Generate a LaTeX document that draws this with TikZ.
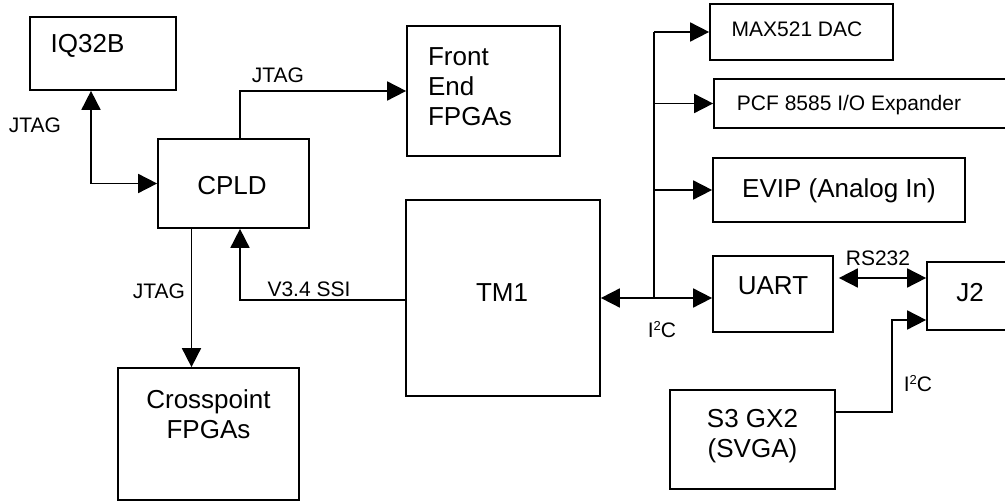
\documentclass[tikz,border=0pt]{standalone}
\usepackage{fontspec}
\setmainfont{Liberation Sans}
\usetikzlibrary{arrows.meta,positioning}

\newcommand{\sqtwo}{\raisebox{7pt}{\fontsize{13}{13}\selectfont 2}}

\tikzset{
    blk/.style={draw, rectangle, line width=1.7pt, inner sep=0pt},
    big/.style={font=\fontsize{26}{30}\selectfont, align=center},
    small/.style={font=\fontsize{21}{24}\selectfont},
    wire/.style={line width=1.7pt},
    link/.style={wire, -{Triangle[length=19pt,width=19pt]}},
    both/.style={wire, {Triangle[length=19pt,width=19pt]}-{Triangle[length=19pt,width=19pt]}}
}

\begin{document}
\begin{tikzpicture}[x=1pt, y=-1pt]
            \useasboundingbox (0,0) rectangle (1005,502);

            % blocks
            \node[blk, minimum width=146, minimum height=73, label={[big, shift={(-15.5pt,7.5pt)}]center:IQ32B}] (iq) at (103,53.5) {};
            \node[blk, minimum width=151, minimum height=89, label={[big, shift={(-1.5pt,-2pt)}]center:CPLD}] (cpld) at (233.5,183.5) {};
            \node[blk, minimum width=153, minimum height=130, label={[big, align=left, shift={(-13.5pt,4.5pt)}]center:Front\\End\\FPGAs}] (front) at (483.5,91) {};
            \node[blk, minimum width=181, minimum height=132, label={[big, shift={(0pt,20pt)}]center:Crosspoint\\FPGAs}] (xp) at (208.5,434) {};
            \node[blk, minimum width=194, minimum height=196, label={[big, shift={(-1pt,5pt)}]center:TM1}] (tm1) at (503,298) {};
            \node[blk, minimum width=183, minimum height=56, label={[small, shift={(-4.5pt,2.5pt)}]center:MAX521 DAC}] (dac) at (801.5,32) {};
            \node[blk, minimum width=296, minimum height=49, label={[small, shift={(-13pt,-1.5pt)}]center:PCF 8585 I/O Expander}] (pcf) at (862,103.5) {};
            \node[blk, minimum width=252, minimum height=64, label={[big, shift={(0pt,-1pt)}]center:EVIP (Analog In)}] (evip) at (839,190) {};
            \node[blk, minimum width=120, minimum height=76, label={[big, shift={(0pt,8pt)}]center:UART}] (uart) at (773,294) {};
            \node[blk, minimum width=83, minimum height=68, label={[big, shift={(1.5pt,3.5pt)}]center:J2}] (j2) at (968.5,296) {};
            \node[blk, minimum width=165, minimum height=99, label={[big, shift={(0pt,3.5pt)}]center:S3 GX2\\(SVGA)}] (s3) at (752.5,439.5) {};

            % signal names
            \node[small] (jtagiq) at (35,125) {JTAG};
            \node[small] (jtagfe) at (278,75) {JTAG};
            \node[small] (jtagxp) at (159,291) {JTAG};
            \node[small] (ssi) at (309,289.5) {V3.4 SSI};
            \node[small] (ibus) at (662,330) {I\sqtwo C};
            \node[small] (isvga) at (918,384) {I\sqtwo C};
            \node[small] (rs) at (878,258) {RS232};

            \coordinate (bus) at (654,298);
            \coordinate (bend) at (892,320);

            % connections
            \draw[both] ([xshift=-12pt]iq.south) |- (cpld.west);
            \draw[link] ([xshift=6.5pt]cpld.north) |- (front.west);
            \draw[link] ([xshift=-42pt]cpld.south) -- ([xshift=-42pt]cpld.south |- xp.north);
            \draw[link] ([yshift=-2pt]tm1.west) -| ([xshift=6.5pt]cpld.south);
            \draw[both] (bus -| tm1.east) -- (bus -| uart.west);
            \draw[wire] (bus) -- (bus |- dac.west);
            \foreach \dev in {dac, pcf, evip}
                \draw[link] (bus |- \dev.west) -- (\dev.west);
            \draw[both] ([xshift=5pt,yshift=16pt]uart.east) -- ([yshift=16pt]uart.east -| j2.west);
            \draw[link] ([yshift=27.5pt]s3.east) -| (bend) -- (bend -| j2.west);
        \end{tikzpicture}
\end{document}
